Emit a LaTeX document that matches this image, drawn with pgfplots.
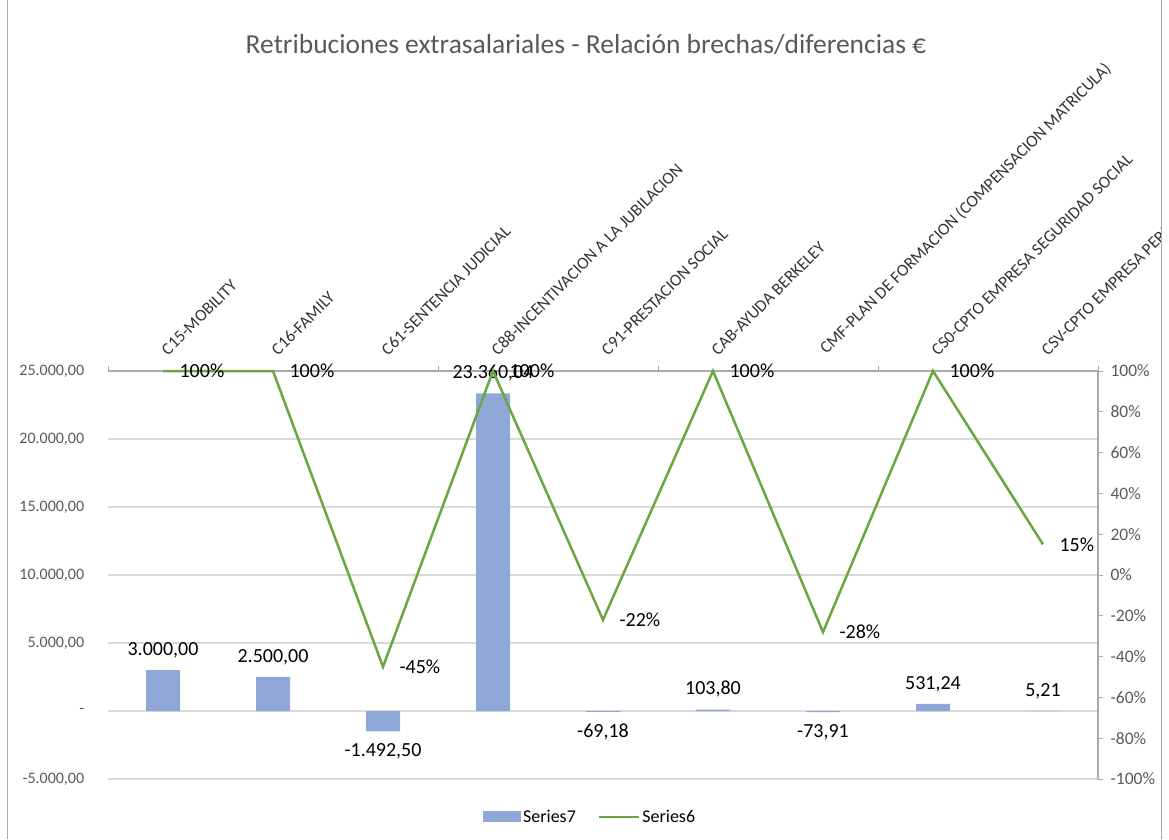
\documentclass[border=0pt]{standalone}
\usepackage{pgfplots}
\pgfplotsset{compat=1.18}
\usepackage{pgfplotstable}
\usepackage{fontspec}
\setmainfont{Carlito}

\definecolor{barblue}{RGB}{143,167,214}
\definecolor{linegreen}{RGB}{106,166,66}
\definecolor{txtgray}{RGB}{89,89,89}
\definecolor{gridgray}{RGB}{217,217,217}
\definecolor{axgray}{RGB}{170,170,170}

% bars: Series7 (left axis)
\pgfplotstableread{
x y
0 3000
1 2500
2 -1492.50
3 23360.04
4 -69.18
5 103.80
6 -73.91
7 531.24
8 5.21
}\barsdata

% line: Series6 (right axis)
\pgfplotstableread{
x y lab
0 1.00 100
1 1.00 100
2 -0.45 -45
3 1.00 100
4 -0.22 -22
5 1.00 100
6 -0.28 -28
7 1.00 100
8 0.15 15
}\linedata

\begin{document}
\begin{tikzpicture}[x=1pt,y=1pt]
\useasboundingbox (0,0) rectangle (1169,839);
\begin{scope}
\clip (8,0) rectangle (1161,839);

\node[txtgray, font=\fontsize{27.5}{32}\selectfont] at (586,794) {Retribuciones extrasalariales - Relación brechas/diferencias €};

\begin{axis}[
  at={(108pt,60pt)}, anchor=south west,
  scale only axis, width=990pt, height=408pt,
  xmin=-0.5, xmax=8.5, ymin=-5000, ymax=25000,
  clip=false,
  scaled y ticks=false,
  axis x line*=top, axis y line*=left,
  y axis line style={draw=none},
  x axis line style={axgray, line width=1.2pt},
  xtick={0,...,8},
  xticklabels={C15-MOBILITY, C16-FAMILY, C61-SENTENCIA JUDICIAL, C88-INCENTIVACION A LA JUBILACION, C91-PRESTACION SOCIAL, CAB-AYUDA BERKELEY, CMF-PLAN DE FORMACION (COMPENSACION MATRICULA), CS0-CPTO EMPRESA SEGURIDAD SOCIAL, CSV-CPTO EMPRESA PERIODIFICACION},
  xticklabel style={rotate=45, anchor=south west, font=\fontsize{17}{19}\selectfont, text=black!80, xshift=7.5pt, yshift=0pt},
  major x tick style={draw=none},
  minor xtick={-0.5,0.5,...,8.5},
  minor x tick style={axgray, line width=1pt},
  minor tick length=5pt,
  tick align=outside,
  ytick={-5000,0,5000,10000,15000,20000,25000},
  yticklabels={{-5.000,00},{-\hspace{7pt}},{5.000,00},{10.000,00},{15.000,00},{20.000,00},{25.000,00}},
  yticklabel style={font=\fontsize{16}{18}\selectfont, text=txtgray, xshift=-16pt},
  ytick style={draw=none},
  ymajorgrids=true,
  grid style={gridgray, line width=1.3pt},
  legend style={at={(0.487,-0.093)}, anchor=center, draw=none, fill=none,
    legend columns=2, font=\fontsize{18}{20}\selectfont,
    /tikz/every even column/.append style={column sep=20pt}},
  legend cell align=left,
]
\addplot[ybar, bar width=34pt, fill=barblue, draw=none,
  point meta=y,
  nodes near coords={\pgfmathprintnumber[fixed, fixed zerofill, precision=2, use comma, 1000 sep={.}, assume math mode=true]{\pgfplotspointmeta}},
  nodes near coords align={vertical},
  every node near coord/.append style={font=\fontsize{20}{22}\selectfont, text=black, inner ysep=12pt},
  legend image code/.code={\fill[barblue] (0pt,-5.5pt) rectangle (38pt,5.5pt);}]
  table[x=x, y=y] {\barsdata};
\addlegendentry{Series7}
\addlegendimage{legend image code/.code={\draw[linegreen, line width=2.5pt] (0pt,0pt) -- (40pt,0pt);}}
\addlegendentry{Series6}
\end{axis}

\begin{axis}[
  at={(108pt,60pt)}, anchor=south west,
  scale only axis, width=990pt, height=408pt,
  xmin=-0.5, xmax=8.5, ymin=-1, ymax=1,
  clip=false,
  axis x line=none, axis y line*=right,
  y axis line style={axgray, line width=1.2pt},
  ytick={-1,-0.8,...,1},
  yticklabels={-100\%,-80\%,-60\%,-40\%,-20\%,0\%,20\%,40\%,60\%,80\%,100\%},
  yticklabel style={font=\fontsize{17.5}{19}\selectfont, text=txtgray, xshift=4pt},
  ytick style={axgray, line width=1pt},
  major tick length=5pt,
  tick align=outside,
]
\addplot[linegreen, line width=2.5pt, mark=none,
  point meta=explicit symbolic,
  nodes near coords={\pgfplotspointmeta\%},
  nodes near coords align={center},
  every node near coord/.append style={font=\fontsize{20}{22}\selectfont, text=black, anchor=west, xshift=12pt}]
  table[x=x, y=y, meta=lab] {\linedata};
\end{axis}
\end{scope}
\draw[axgray, line width=1pt] (7.5,0) -- (7.5,839);
\draw[axgray, line width=1pt] (1161.5,0) -- (1161.5,839);
\end{tikzpicture}
\end{document}
